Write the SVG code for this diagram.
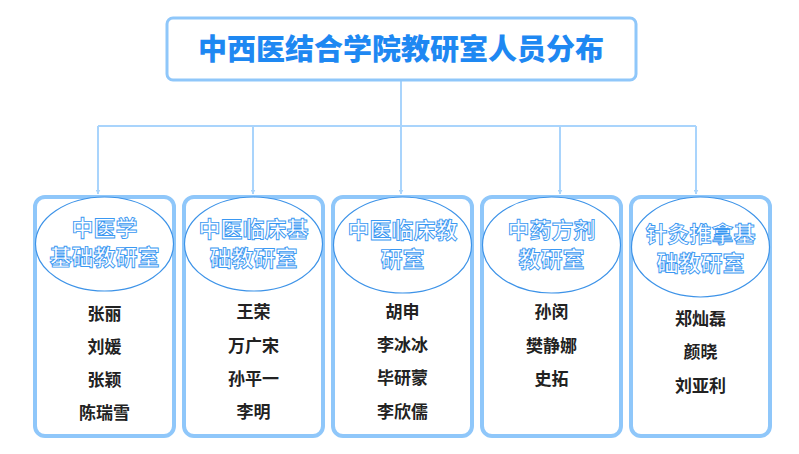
<svg xmlns="http://www.w3.org/2000/svg" width="799" height="454" viewBox="0 0 799 454">
<defs>
<style>
.box{fill:#fff;stroke:#8fc7fa;stroke-width:4}
.ell{fill:#fff;stroke:#3d93e8;stroke-width:1.2}
.ht{font-family:"Noto Sans CJK SC","Noto Sans",sans-serif;font-size:22px;font-weight:700;fill:#fff;stroke:#3a98f2;stroke-width:0.9;text-anchor:middle}
.nm{font-family:"Noto Sans CJK SC","Noto Sans",sans-serif;font-size:17px;font-weight:700;fill:#222;text-anchor:middle}
.title{font-family:"Noto Sans CJK SC","Noto Sans",sans-serif;font-size:29px;font-weight:900;fill:#1e88f2;text-anchor:middle}
.con{fill:none;stroke:#a9d4fc;stroke-width:2}
</style>
<marker id="arr" viewBox="0 0 10 10" refX="9" refY="5" markerWidth="5" markerHeight="5" orient="auto" markerUnits="userSpaceOnUse">
<path d="M0,0 L10,5 L0,10 z" fill="#a9d4fc"/>
</marker>
</defs>
<rect width="799" height="454" fill="#fff"/>
<g id="connectors">
<path class="con" d="M401,81 V126"/>
<path class="con" d="M98,126 H696"/>
<path class="con" d="M98,126 V194" marker-end="url(#arr)"/>
<path class="con" d="M253,126 V194" marker-end="url(#arr)"/>
<path class="con" d="M401,126 V194" marker-end="url(#arr)"/>
<path class="con" d="M560,126 V194" marker-end="url(#arr)"/>
<path class="con" d="M696,126 V194" marker-end="url(#arr)"/>
</g>
<g id="title">
<rect x="167" y="18" width="469" height="62" rx="6" fill="#fff" stroke="#8fc7fa" stroke-width="3"/>
<text class="title" x="401" y="60">中西医结合学院教研室人员分布</text>
</g>
<g id="node1">
<rect class="box" x="35" y="197" width="139" height="239" rx="10"/>
<ellipse class="ell" cx="104.5" cy="244" rx="69" ry="47"/>
<text class="ht" x="104.5" y="236">中医学</text>
<text class="ht" x="104.5" y="265">基础教研室</text>
<text class="nm" x="104.5" y="320">张丽</text>
<text class="nm" x="104.5" y="353">刘媛</text>
<text class="nm" x="104.5" y="386">张颖</text>
<text class="nm" x="104.5" y="419">陈瑞雪</text>
</g>
<g id="node2">
<rect class="box" x="184" y="197" width="139" height="239" rx="10"/>
<ellipse class="ell" cx="253.5" cy="244" rx="69" ry="47"/>
<text class="ht" x="253.5" y="237">中医临床基</text>
<text class="ht" x="253.5" y="266">础教研室</text>
<text class="nm" x="253.5" y="318">王荣</text>
<text class="nm" x="253.5" y="352">万广宋</text>
<text class="nm" x="253.5" y="385">孙平一</text>
<text class="nm" x="253.5" y="418">李明</text>
</g>
<g id="node3">
<rect class="box" x="333" y="197" width="139" height="239" rx="10"/>
<ellipse class="ell" cx="402.5" cy="245" rx="69" ry="48"/>
<text class="ht" x="402.5" y="238">中医临床教</text>
<text class="ht" x="402.5" y="267">研室</text>
<text class="nm" x="402.5" y="318">胡申</text>
<text class="nm" x="402.5" y="351">李冰冰</text>
<text class="nm" x="402.5" y="384">毕研蒙</text>
<text class="nm" x="402.5" y="418">李欣儒</text>
</g>
<g id="node4">
<rect class="box" x="482" y="197" width="139" height="239" rx="10"/>
<ellipse class="ell" cx="551.5" cy="245" rx="69" ry="48"/>
<text class="ht" x="551.5" y="238">中药方剂</text>
<text class="ht" x="551.5" y="267">教研室</text>
<text class="nm" x="551.5" y="318">孙闵</text>
<text class="nm" x="551.5" y="352">樊静娜</text>
<text class="nm" x="551.5" y="385">史拓</text>
</g>
<g id="node5">
<rect class="box" x="631" y="197" width="139" height="239" rx="10"/>
<ellipse class="ell" cx="700.5" cy="247" rx="69" ry="50"/>
<text class="ht" x="700.5" y="242">针灸推拿基</text>
<text class="ht" x="700.5" y="271">础教研室</text>
<text class="nm" x="700.5" y="325">郑灿磊</text>
<text class="nm" x="700.5" y="358">颜晓</text>
<text class="nm" x="700.5" y="392">刘亚利</text>
</g>
</svg>
